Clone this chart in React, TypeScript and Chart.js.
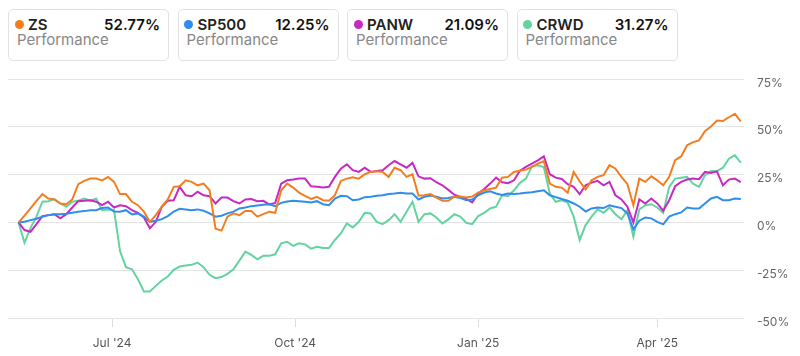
import { useEffect, useRef } from "react";
import { Chart, registerables } from "chart.js";

Chart.register(...registerables);

const dates = [
  "2024-05-15","2024-05-18","2024-05-21","2024-05-24","2024-05-27","2024-05-30",
  "2024-06-02","2024-06-05","2024-06-08","2024-06-11","2024-06-14","2024-06-17","2024-06-20","2024-06-23","2024-06-26","2024-06-29",
  "2024-07-02","2024-07-05","2024-07-08","2024-07-11","2024-07-14","2024-07-17","2024-07-20","2024-07-23","2024-07-26","2024-07-29",
  "2024-08-01","2024-08-04","2024-08-07","2024-08-10","2024-08-13","2024-08-16","2024-08-19","2024-08-22","2024-08-25","2024-08-28","2024-08-31",
  "2024-09-03","2024-09-06","2024-09-09","2024-09-12","2024-09-15","2024-09-18","2024-09-21","2024-09-24","2024-09-27","2024-09-30",
  "2024-10-03","2024-10-06","2024-10-09","2024-10-12","2024-10-15","2024-10-18","2024-10-21","2024-10-24","2024-10-27","2024-10-30",
  "2024-11-02","2024-11-05","2024-11-08","2024-11-11","2024-11-14","2024-11-17","2024-11-20","2024-11-23","2024-11-26","2024-11-29",
  "2024-12-02","2024-12-05","2024-12-08","2024-12-11","2024-12-14","2024-12-17","2024-12-20","2024-12-23","2024-12-26","2024-12-29",
  "2025-01-01","2025-01-04","2025-01-07","2025-01-10","2025-01-13","2025-01-16","2025-01-19","2025-01-22","2025-01-25","2025-01-28","2025-01-31",
  "2025-02-03","2025-02-06","2025-02-09","2025-02-12","2025-02-15","2025-02-18","2025-02-21","2025-02-24","2025-02-27",
  "2025-03-02","2025-03-05","2025-03-08","2025-03-11","2025-03-14","2025-03-17","2025-03-20","2025-03-23","2025-03-26","2025-03-29",
  "2025-04-01","2025-04-04","2025-04-07","2025-04-10","2025-04-13","2025-04-16","2025-04-19","2025-04-22","2025-04-25","2025-04-28",
  "2025-05-01","2025-05-04","2025-05-07","2025-05-10","2025-05-13",
];

const zs = [
  0, 3.5, 7.3, 11.3, 14.8, 12.5, 12, 9.9, 9.5, 12,
  20, 21.7, 22.9, 22.9, 22, 23.8, 21.2, 14.8, 14.8, 10.8,
  9, 5.6, 0.3, 3.8, 8.2, 12, 18.6, 18.9, 22, 21.2,
  19.4, 20.3, 16.8, -3.3, -4.3, 3, 4.7, 3.8, 6, 6,
  3, 4.3, 5.6, 5, 16.8, 20.3, 18.2, 15.6, 13.9, 12.3,
  13.4, 11.6, 11.3, 14.2, 21.7, 22.9, 23.6, 22.9, 25.2, 26.4,
  26.7, 26.4, 23.8, 28.6, 27.3, 23.8, 25.2, 14, 14.2, 14.8,
  13, 11.3, 11.3, 13.4, 13.5, 13, 13.5, 15.6, 16.8, 17.5,
  18.2, 23.4, 23.8, 26.4, 27, 27.6, 29, 30.7, 32.1, 20.3,
  18.6, 18.2, 15.5, 26.4, 21.5, 17.2, 22, 23.8, 24.7, 29.9,
  28.1, 23.8, 20, 9, 22.9, 21.2, 24.1, 22, 19.4, 23.8,
  32.5, 34.5, 40.3, 42, 42.9, 47.7, 50.2, 53.3, 53, 55,
  56.8, 52.77,
];

const sp500 = [
  0, 0.3, 1.2, 1.9, 3, 3.8, 4.2, 4.3, 4.5, 5,
  5.6, 5.9, 6.3, 6.4, 7.5, 7.8, 5.7, 5.6, 6.4, 4.2,
  4.7, 3, 0.3, 0.9, 1.7, 3.3, 5.7, 7.1, 6.8, 6.4,
  6.8, 6.1, 4.7, 3, 3.5, 4.7, 5.6, 7.3, 7.8, 8.5,
  8.9, 9.2, 9.5, 8.5, 10.2, 10.9, 11.3, 11.1, 10.8, 10.4,
  11.1, 9.5, 9, 12.5, 13.9, 13.7, 11.6, 12, 13.2, 13.4,
  13.9, 14.2, 14.8, 15.1, 15.5, 15.1, 15.1, 12, 13.4, 14.1,
  13.4, 12.5, 12.8, 13.4, 12.8, 11.6, 12, 14.2, 15.6, 16.3,
  15.1, 14.4, 15.1, 14.8, 15.1, 15.5, 15.8, 16.3, 16.8, 14.2,
  13.2, 12.2, 11.3, 9.9, 8.2, 5.7, 7.3, 7.8, 7.5, 9,
  8.2, 7.5, 4.7, -3.6, 0.9, 2.6, 2.1, 0.3, -1, 3,
  4.3, 5.2, 7.8, 7.3, 7.3, 9.9, 12.5, 13.4, 11.6, 11.6,
  12.5, 12.25,
];

const panw = [
  0, -4, -4.9, -0.9, 3.3, 3.8, 4.3, 2.1, 4.3, 7.8,
  11.1, 11.3, 11.6, 10.8, 9, 10.8, 7.8, 9, 8.5, 6.4,
  5, 2.6, -3.1, 0.3, 8.2, 11.3, 11.6, 18.6, 14.2, 13.7,
  16, 14.2, 13.7, 9.9, 13, 13, 11.1, 9.9, 12, 12.2,
  11.1, 11.3, 9.4, 10.2, 20.3, 22, 22.4, 22.9, 22.9, 18.9,
  18.6, 18.2, 18.6, 23.8, 28.1, 30.4, 27.3, 26.4, 28.6, 26.4,
  26.9, 27.3, 29.9, 32.1, 30.4, 28.6, 31.1, 24.1, 22.9, 23.1,
  21, 19.4, 17, 14.5, 13.3, 12.3, 10.5, 15, 17.5, 20.3,
  23.4, 21, 20.5, 22, 27, 29, 30.7, 32.4, 34.5, 25.2,
  23.4, 22.7, 20, 18.6, 14.8, 19.4, 20.8, 21.7, 19.4, 21.2,
  14.2, 12, 8.2, 0, 12, 9.9, 12.5, 9.9, 6.1, 11.6,
  18.9, 21.2, 22.4, 22.9, 22.6, 26.4, 25.9, 26.7, 19.4, 22.4,
  22.9, 21.09,
];

const crwd = [
  0, -10.6, -3, 3, 10.8, 11.1, 12.2, 9.9, 8.2, 10.8,
  11.3, 12.5, 11.3, 12.5, 6.4, 6.8, 6.4, -15, -23.4, -24.5,
  -29.7, -36.1, -36.1, -33.2, -30.4, -28.3, -24.8, -23.1, -22.6, -22.2,
  -21, -23.4, -27.4, -29.2, -28.6, -26.9, -24.5, -20, -15.3, -17,
  -19.3, -17.5, -17.5, -16.7, -10.9, -10.1, -12.3, -10.9, -11.5, -13.7,
  -12.7, -13.4, -13.4, -9.2, -5.7, -0.5, -2.6, 0.3, 5, 4.7,
  0.3, -0.9, 1.2, 4.3, 0.3, 5.6, 10.8, 0.3, 4.3, 4.7,
  2.6, -0.5, 1.6, 4.3, 3, -0.2, -0.9, 3.3, 5, 7.3,
  8.2, 14.2, 13.7, 16.8, 20.7, 22.9, 29.3, 29.9, 29, 15.1,
  10.8, 11.6, 10.4, 3, -9.2, -1.4, 3, 6.8, 5, 7.8,
  4.3, 1.6, 6.4, -7.5, 6.8, 9, 9.5, 7.8, 5, 18.6,
  22.9, 23.4, 23.8, 20.3, 18.6, 24.7, 26.9, 26.7, 28.6, 33.3,
  35.1, 31.27,
];

const xTickDates = ["2024-07-01", "2024-10-01", "2025-01-01", "2025-04-01"];
const yTickValues = [-50, -25, 0, 25, 50, 75];

const seriesNames = ["ZS", "SP500", "PANW", "CRWD"];
const seriesTotals = ["52.77%", "12.25%", "21.09%", "31.27%"];
const seriesColors = ["#f47d20", "#2f8ded", "#c62ac1", "#64d3a0"];
const seriesValues = [zs, sp500, panw, crwd];

const MONTHS = ["Jan", "Feb", "Mar", "Apr", "May", "Jun", "Jul", "Aug", "Sep", "Oct", "Nov", "Dec"];
const EPOCH = Date.UTC(2024, 6, 1);
const toDay = (s: string) => {
  const [y, m, d] = s.split("-").map(Number);
  return (Date.UTC(y, m - 1, d) - EPOCH) / 86400000;
};
const fmtTick = (s: string) => {
  const [y, m] = s.split("-").map(Number);
  return `${MONTHS[m - 1]} '${String(y).slice(2)}`;
};

const X_MIN = -52.3;
const X_MAX = 317.6;
const FONT = "Inter, 'Noto Sans', sans-serif";

export default function App() {
  const canvasRef = useRef<HTMLCanvasElement | null>(null);

  useEffect(() => {
    if (!canvasRef.current) return;
    const chart = new Chart(canvasRef.current, {
      type: "line",
      data: {
        datasets: seriesNames.map((name, i) => ({
          label: name,
          data: dates.map((d, j) => ({ x: toDay(d), y: seriesValues[i][j] })),
          borderColor: seriesColors[i],
          backgroundColor: seriesColors[i],
          borderWidth: 2,
          pointRadius: 0,
          tension: 0,
          fill: false,
        })),
      },
      options: {
        animation: false,
        responsive: true,
        maintainAspectRatio: false,
        layout: { padding: { top: 13, bottom: 0, left: 0, right: 0 } },
        plugins: { legend: { display: false }, tooltip: { enabled: false } },
        events: [],
        scales: {
          x: {
            type: "linear",
            min: X_MIN,
            max: X_MAX,
            afterBuildTicks: (scale: any) => {
              scale.ticks = xTickDates.map((d) => ({ value: toDay(d) }));
            },
            afterFit: (scale: any) => {
              scale.height = 38;
            },
            ticks: {
              autoSkip: false,
              maxRotation: 0,
              padding: 9,
              color: "#555",
              font: { family: FONT, size: 12 },
              callback: (_v: any, i: number) => fmtTick(xTickDates[i]),
            },
            grid: { drawOnChartArea: false, drawTicks: true, tickLength: 9, color: "#dedede", lineWidth: 1 },
            border: { display: false },
          },
          y: {
            position: "right",
            min: -50,
            max: 75,
            afterBuildTicks: (scale: any) => {
              scale.ticks = yTickValues.map((v) => ({ value: v }));
            },
            afterFit: (scale: any) => {
              scale.width = 48;
            },
            ticks: {
              padding: 0,
              labelOffset: 4,
              color: "#666",
              font: { family: FONT, size: 12 },
              callback: (v: any) => `${v}%`,
            },
            grid: { drawTicks: true, tickLength: 13, tickColor: "rgba(0,0,0,0)", color: "#e4e4e4", lineWidth: 1 },
            border: { display: false },
          },
        },
      },
    });
    return () => chart.destroy();
  }, []);

  return (
    <div style={{ position: "absolute", left: 0, top: 0, width: 800, height: 356, overflow: "hidden", background: "#fff", fontFamily: FONT }}>
      {seriesNames.map((name, i) => (
        <div
          key={name}
          style={{
            position: "absolute",
            left: 8 + i * 169.5,
            top: 9,
            width: 161,
            height: 52,
            boxSizing: "border-box",
            border: "1px solid #e2e2e2",
            borderRadius: 5,
          }}
        >
          <div style={{ position: "absolute", left: 5.5, top: 9.5, width: 9, height: 9, borderRadius: "50%", background: seriesColors[i] }} />
          <div style={{ position: "absolute", left: 19, top: 5.5, lineHeight: "18px", fontSize: 15, fontWeight: 600, color: "#222" }}>{name}</div>
          <div style={{ position: "absolute", right: 8, top: 5.5, lineHeight: "18px", fontSize: 15, fontWeight: 600, color: "#111" }}>{seriesTotals[i]}</div>
          <div style={{ position: "absolute", left: 8, top: 21, lineHeight: "18px", fontSize: 15, fontWeight: 400, color: "#888" }}>Performance</div>
        </div>
      ))}
      <div style={{ position: "absolute", left: 8, top: 66, width: 784, height: 290 }}>
        <canvas ref={canvasRef} />
      </div>
    </div>
  );
}
